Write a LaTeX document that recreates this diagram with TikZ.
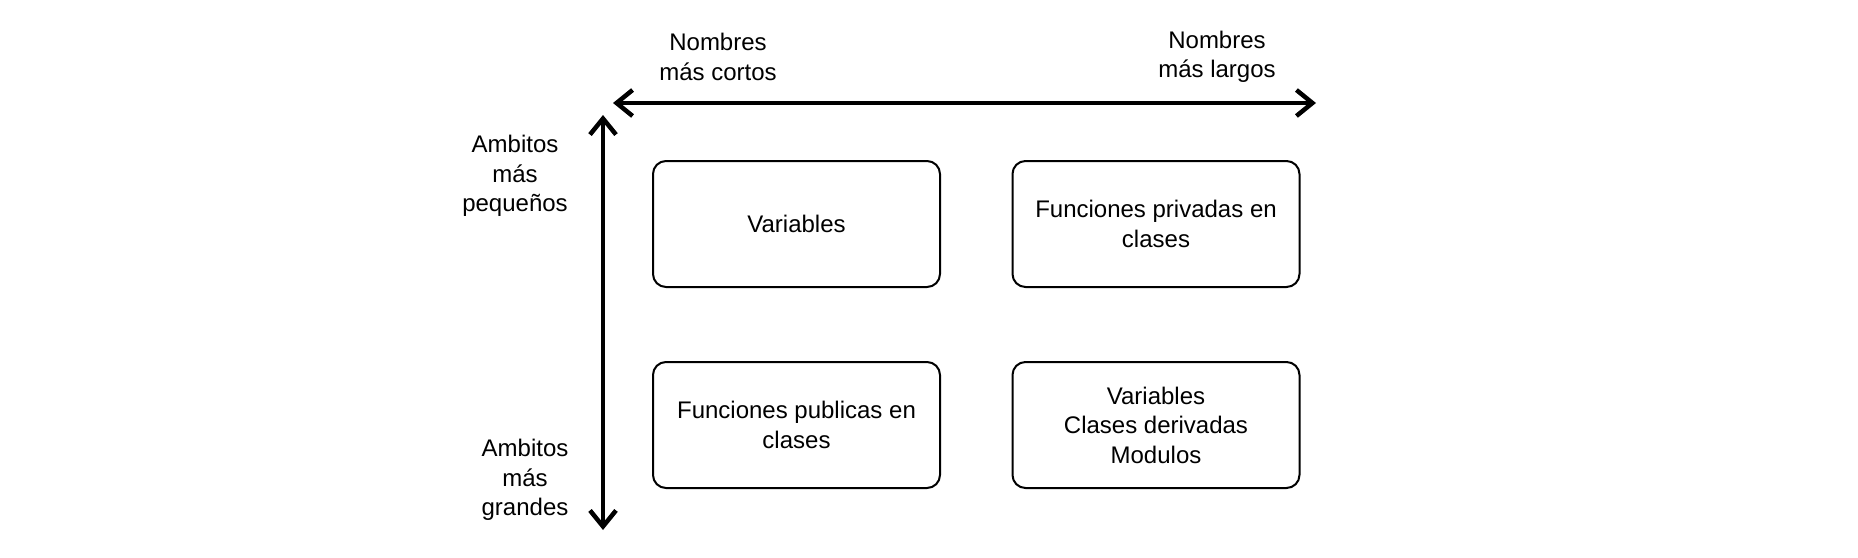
\documentclass[tikz,border=0pt]{standalone}
\usepackage{fontspec}
\setmainfont{Liberation Sans}
\usetikzlibrary{arrows.meta}
\begin{document}
\begin{tikzpicture}[x=1pt,y=-1pt,
  every node/.style={font=\fontsize{24}{29.5}\selectfont, align=center},
  cell/.style={draw, line width=2pt, rounded corners=13pt, minimum width=287pt, minimum height=126pt, inner sep=0pt},
  lbl/.style={inner sep=0pt},
  axis/.style={line width=4.5pt, {Straight Barb[length=16pt,width=26pt,line width=4.5pt]}-{Straight Barb[length=16pt,width=26pt,line width=4.5pt]}}
]
\useasboundingbox (0,0) rectangle (1858,557);
\node[cell] (b1) at (796.5,224) {Variables};
\node[cell] (b2) at (1156,224) {Funciones privadas en\\clases};
\node[cell] (b3) at (796.5,425) {Funciones publicas en\\clases};
\node[cell] (b4) at (1156,425) {Variables\\Clases derivadas\\Modulos};
\node[lbl] (nc) at (718,57) {Nombres\\más cortos};
\node[lbl] (nl) at (1217,57) {Nombres\\más largos};
\node[lbl] (ap) at (515,176) {Ambitos\\más\\pequeños};
\node[lbl] (ag) at (525,480) {Ambitos\\más\\grandes};
\coordinate (hl) at (613,103);
\coordinate (hr) at (1316,103);
\coordinate (vt) at (603,115);
\coordinate (vb) at (603,530);
\draw[axis] (hl) -- (hr);
\draw[axis] (vt) -- (vb);
\end{tikzpicture}
\end{document}
